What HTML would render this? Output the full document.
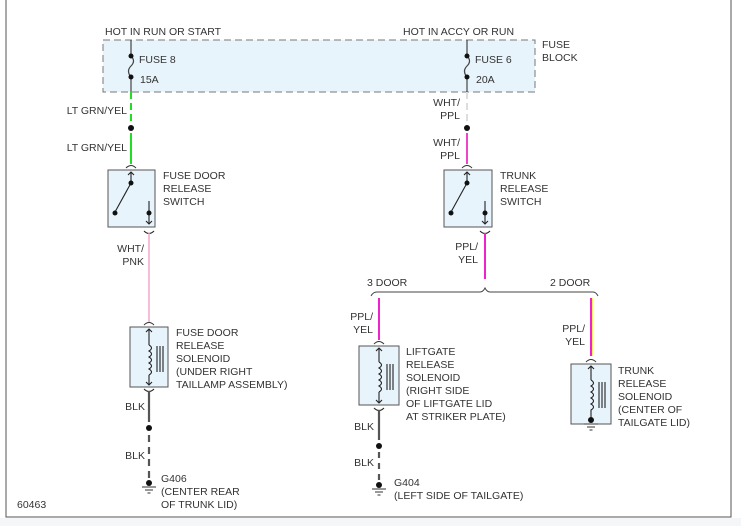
<!DOCTYPE html>
<html><head><meta charset="utf-8"><style>
html,body{margin:0;padding:0;background:#fff;width:741px;height:526px;overflow:hidden}
svg text{font-family:"Liberation Sans",sans-serif;font-size:10.5px;fill:#333}
</style></head><body>
<svg width="741" height="526" viewBox="0 0 741 526" xmlns="http://www.w3.org/2000/svg">
<rect x="0" y="518" width="741" height="8" fill="#f4f6f8"/>
<path d="M6 0 V517 H731 V0" fill="none" stroke="#555" stroke-width="1"/>
<!-- fuse block -->
<rect x="103" y="40" width="432" height="52" fill="#e8f4fc" stroke="#777" stroke-dasharray="7,4"/>
<text x="105" y="35">HOT IN RUN OR START</text>
<text x="403" y="35">HOT IN ACCY OR RUN</text>
<text x="542" y="48">FUSE</text><text x="542" y="61">BLOCK</text>
<g stroke="#444" fill="none" stroke-width="1.2">
<path d="M131 40 V56 M131 56 q5 5 0 10 q-5 5 0 11 V92"/>
<path d="M467 40 V56 M467 56 q5 5 0 10 q-5 5 0 11 V92"/>
</g>
<g fill="#111"><circle cx="131" cy="56" r="2.5"/><circle cx="131" cy="77" r="2.5"/><circle cx="467" cy="56" r="2.5"/><circle cx="467" cy="77" r="2.5"/></g>
<text x="139" y="63">FUSE 8</text><text x="140" y="83">15A</text>
<text x="475" y="63">FUSE 6</text><text x="476" y="83">20A</text>
<!-- left wire -->
<path d="M131 92 V124" stroke="#22dd22" stroke-width="2" stroke-dasharray="7,4"/>
<circle cx="131" cy="128" r="3" fill="#111"/>
<path d="M131 133 V164" stroke="#22dd22" stroke-width="2"/>
<text x="127" y="114" text-anchor="end">LT GRN/YEL</text>
<text x="127" y="151" text-anchor="end">LT GRN/YEL</text>
<path d="M126 168 q5 -5 10 0" stroke="#333" fill="none"/>
<rect x="108" y="170" width="47" height="57" fill="#e8f4fc" stroke="#555"/>
<g stroke="#222" fill="none" stroke-width="1.1">
<path d="M131 172 V183 M128 175 L131 172 L134 175"/><path d="M131 183 L115 212"/>
<path d="M149 201 V224 M146 221 L149 224 L152 221"/>
<path d="M144 231 q5 5 10 0"/>
</g>
<g fill="#111"><circle cx="131" cy="183" r="2.5"/><circle cx="115" cy="213" r="2.5"/><circle cx="149" cy="213" r="2.5"/></g>
<text x="163" y="179">FUSE DOOR</text><text x="163" y="192">RELEASE</text><text x="163" y="205">SWITCH</text>
<path d="M149 233 V322" stroke="#f4a6c8" stroke-width="1.5"/>
<text x="144" y="252" text-anchor="end">WHT/</text><text x="144" y="265" text-anchor="end">PNK</text>
<!-- left solenoid -->
<path d="M144 325 q5 -5 10 0" stroke="#333" fill="none"/>
<rect x="130" y="327" width="38" height="60" fill="#e8f4fc" stroke="#555"/>
<g stroke="#222" fill="none" stroke-width="1.1">
<path d="M149 329 V345 M146 332 L149 329 L152 332"/>
<path d="M149 345 q5 3 0 6 q5 3 0 6 q5 3 0 6 q5 3 0 6 q5 3 0 6"/>
<path d="M149 375 V385 M146 382 L149 385 L152 382"/>
<path d="M157 346 V372 M160 346 V372 M163 346 V372"/>
<path d="M144 389 q5 5 10 0"/>
</g>
<text x="176" y="336">FUSE DOOR</text><text x="176" y="349">RELEASE</text><text x="176" y="362">SOLENOID</text><text x="176" y="375">(UNDER RIGHT</text><text x="176" y="388">TAILLAMP ASSEMBLY)</text>
<path d="M149 391 V422" stroke="#555" stroke-width="2.2"/>
<circle cx="149" cy="428" r="3" fill="#111"/>
<path d="M149 435 V480" stroke="#555" stroke-width="2.2" stroke-dasharray="7,5"/>
<circle cx="149" cy="483" r="3" fill="#111"/>
<path d="M142 487 H156 M145 490 H153 M147.5 493 H150.5" stroke="#333"/>
<text x="145" y="410" text-anchor="end">BLK</text><text x="145" y="459" text-anchor="end">BLK</text>
<text x="161" y="482">G406</text><text x="161" y="495">(CENTER REAR</text><text x="161" y="508">OF TRUNK LID)</text>
<text x="17" y="508">60463</text>
<!-- right wire -->
<path d="M467 92 V122" stroke="#ddd" stroke-width="2" stroke-dasharray="7,4"/>
<circle cx="467" cy="128" r="3" fill="#111"/>
<path d="M467 133 V164" stroke="#ee44cc" stroke-width="2"/>
<text x="460" y="106" text-anchor="end">WHT/</text><text x="460" y="119" text-anchor="end">PPL</text>
<text x="460" y="146" text-anchor="end">WHT/</text><text x="460" y="159" text-anchor="end">PPL</text>
<path d="M462 168 q5 -5 10 0" stroke="#333" fill="none"/>
<rect x="444" y="170" width="48" height="57" fill="#e8f4fc" stroke="#555"/>
<g stroke="#222" fill="none" stroke-width="1.1">
<path d="M467 172 V183 M464 175 L467 172 L470 175"/><path d="M467 183 L451 212"/>
<path d="M485 201 V224 M482 221 L485 224 L488 221"/>
<path d="M480 231 q5 5 10 0"/>
</g>
<g fill="#111"><circle cx="467" cy="183" r="2.5"/><circle cx="451" cy="213" r="2.5"/><circle cx="485" cy="213" r="2.5"/></g>
<text x="500" y="179">TRUNK</text><text x="500" y="192">RELEASE</text><text x="500" y="205">SWITCH</text>
<path d="M485 233 V279" stroke="#ee22cc" stroke-width="2"/>
<text x="478" y="250" text-anchor="end">PPL/</text><text x="478" y="263" text-anchor="end">YEL</text>
<!-- brace -->
<path d="M371 296 q2 -4 6 -4 H480 q3 0 5 -4 q2 4 5 4 H593 q3 0 5 4" stroke="#444" fill="none"/>
<text x="367" y="286">3 DOOR</text><text x="550" y="286">2 DOOR</text>
<!-- liftgate branch -->
<path d="M379 298 V340" stroke="#ee22cc" stroke-width="2"/>
<text x="373" y="320" text-anchor="end">PPL/</text><text x="373" y="333" text-anchor="end">YEL</text>
<path d="M374 344 q5 -5 10 0" stroke="#333" fill="none"/>
<rect x="359" y="346" width="40" height="59" fill="#e8f4fc" stroke="#555"/>
<g stroke="#222" fill="none" stroke-width="1.1">
<path d="M379 348 V362 M376 351 L379 348 L382 351"/>
<path d="M379 362 q5 3 0 6 q5 3 0 6 q5 3 0 6 q5 3 0 6 q5 3 0 6"/>
<path d="M379 392 V403 M376 400 L379 403 L382 400"/>
<path d="M387 364 V390 M390 364 V390 M393 364 V390"/>
<path d="M374 408 q5 5 10 0"/>
</g>
<text x="406" y="355">LIFTGATE</text><text x="406" y="368">RELEASE</text><text x="406" y="381">SOLENOID</text><text x="406" y="394">(RIGHT SIDE</text><text x="406" y="407">OF LIFTGATE LID</text><text x="406" y="420">AT STRIKER PLATE)</text>
<path d="M379 410 V440" stroke="#555" stroke-width="2.2"/>
<circle cx="379" cy="446" r="3" fill="#111"/>
<path d="M379 452 V484" stroke="#555" stroke-width="2.2" stroke-dasharray="6,5"/>
<circle cx="379" cy="485" r="3" fill="#111"/>
<path d="M372 489 H386 M375 492 H383 M377.5 495 H380.5" stroke="#333"/>
<text x="374" y="430" text-anchor="end">BLK</text><text x="374" y="466" text-anchor="end">BLK</text>
<text x="394" y="486">G404</text><text x="394" y="499">(LEFT SIDE OF TAILGATE)</text>
<!-- trunk branch -->
<path d="M591 298 V356" stroke="#ee22cc" stroke-width="2"/>
<path d="M592.5 298 V356" stroke="#ffee66" stroke-width="1"/>
<text x="585" y="332" text-anchor="end">PPL/</text><text x="585" y="345" text-anchor="end">YEL</text>
<path d="M586 362 q5 -5 10 0" stroke="#333" fill="none"/>
<rect x="571" y="364" width="40" height="60" fill="#e8f4fc" stroke="#555"/>
<g stroke="#222" fill="none" stroke-width="1.1">
<path d="M591 366 V380 M588 369 L591 366 L594 369"/>
<path d="M591 380 q5 3 0 6 q5 3 0 6 q5 3 0 6 q5 3 0 6 q5 3 0 6 V420"/>
<path d="M599 382 V408 M602 382 V408 M605 382 V408"/>
<path d="M584 424 H598 M587 427 H595 M589.5 430 H592.5" stroke="#333"/>
</g>
<circle cx="591" cy="420" r="3" fill="#111"/>
<text x="618" y="374">TRUNK</text><text x="618" y="387">RELEASE</text><text x="618" y="400">SOLENOID</text><text x="618" y="413">(CENTER OF</text><text x="618" y="426">TAILGATE LID)</text>
</svg>
</body></html>
